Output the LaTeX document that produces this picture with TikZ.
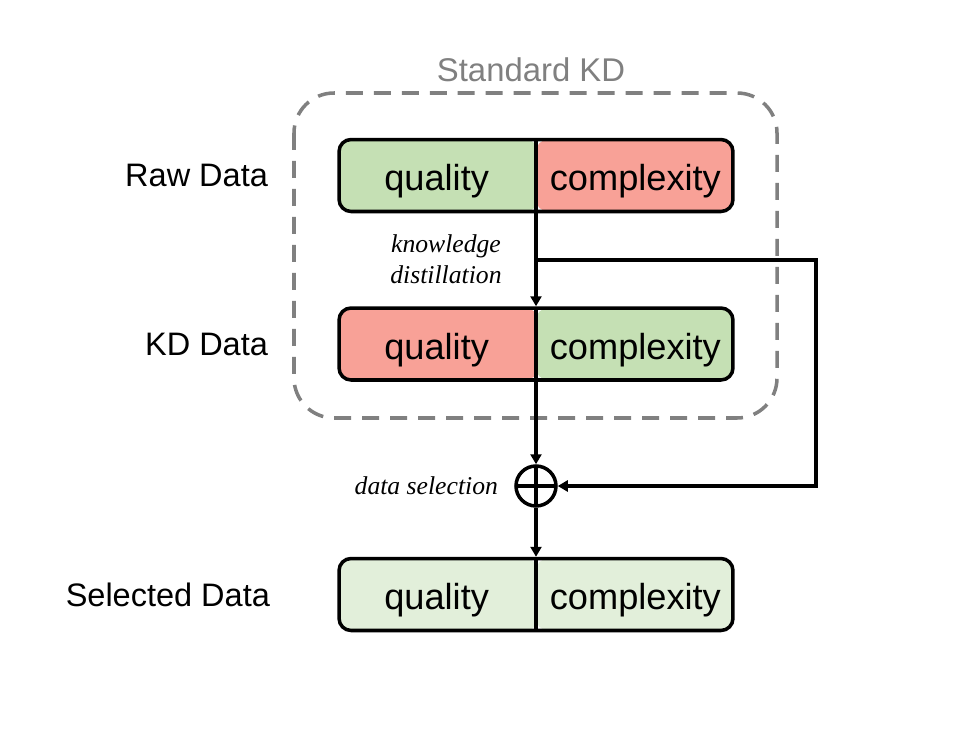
\documentclass[tikz,border=0pt]{standalone}
\usepackage{fontspec}
\setmainfont{Liberation Sans}
\newfontfamily\kdserif{Liberation Serif}
\usetikzlibrary{arrows.meta,calc,positioning}
\definecolor{good-green}{RGB}{197,224,180}
\definecolor{bad-red}{RGB}{248,161,151}
\definecolor{pale-green}{RGB}{226,239,218}
\definecolor{frame-gray}{RGB}{128,128,128}
\tikzset{
    data-box/.style 2 args = {draw, line width=2pt, rectangle, rounded corners=0.24cm, minimum width=7.88cm, minimum height=1.44cm, inner sep=0pt,
        path picture={
            \fill[#1] (path picture bounding box.south west) rectangle ([xshift=1pt]path picture bounding box.north);
            \fill[#2] (path picture bounding box.south) rectangle (path picture bounding box.north east);
            \draw[line width=2pt] (path picture bounding box.south) -- (path picture bounding box.north);}},
    box-text/.style = {font=\fontsize{20.6pt}{24pt}\selectfont, inner sep=0pt, yshift=-0.12cm},
    row-label/.style = {font=\fontsize{18.5pt}{22pt}\selectfont, inner sep=0pt},
    step-label/.style = {font=\kdserif\itshape\fontsize{14.6pt}{17.6pt}\selectfont, inner sep=0pt, align=center},
    kd-frame/.style = {draw=frame-gray, line width=2pt, rounded corners=0.8cm, dash pattern=on 0.34cm off 0.22cm},
    frame-title/.style = {text=frame-gray, font=\fontsize{18.7pt}{22pt}\selectfont, inner sep=0pt},
    sum-node/.style = {draw, circle, line width=2pt, minimum size=0.8cm, inner sep=0pt,
        path picture={
            \draw[line width=2pt] (path picture bounding box.north) -- (path picture bounding box.south)
                (path picture bounding box.west) -- (path picture bounding box.east);}},
    flow/.style = {line width=2pt, -{Triangle[length=0.2cm, width=0.22cm]}},
}
\begin{document}
\begin{tikzpicture}[x=0.02cm, y=-0.02cm]
\useasboundingbox (0,0) rectangle (974,730);

% standard KD frame
\draw[kd-frame] (294,93) rectangle (777,418);
\node[frame-title] (frame-title) at (531,70) {Standard KD};

% data rows
\node[data-box={good-green}{bad-red}] (raw) at (536,175.5) {};
\node[data-box={bad-red}{good-green}] (kd) at (536,344) {};
\node[data-box={pale-green}{pale-green}] (selected) at (536,594.5) {};

\foreach \boxname in {raw, kd, selected} {
    \node[box-text] at ($(\boxname.west)!0.5!(\boxname.center)$) {quality};
    \node[box-text] at ($(\boxname.center)!0.5!(\boxname.east)$) {complexity};
}

\node[row-label, left=1.38cm of raw] (raw-label) {Raw Data};
\node[row-label, left=1.38cm of kd] (kd-label) {KD Data};
\node[row-label, left=1.34cm of selected] (selected-label) {Selected Data};

% selection
\node[sum-node] (mix) at (536,486) {};
\node[step-label, left=0.32cm of mix] (select-label) {data selection};
\node[step-label] (distill-label) at (446,259) {knowledge\\distillation};

\coordinate (branch) at ($(raw.south)!0.5!(kd.north)$);
\coordinate (detour-top) at (branch -| 816,0);
\coordinate (detour-bottom) at (mix -| 816,0);

\draw[flow] (raw.south) -- (kd.north);
\draw[flow] (branch) -- (detour-top) -- (detour-bottom) -- (mix.east);
\draw[flow] (kd.south) -- (mix.north);
\draw[flow] (mix.south) -- (selected.north);
\end{tikzpicture}
\end{document}
